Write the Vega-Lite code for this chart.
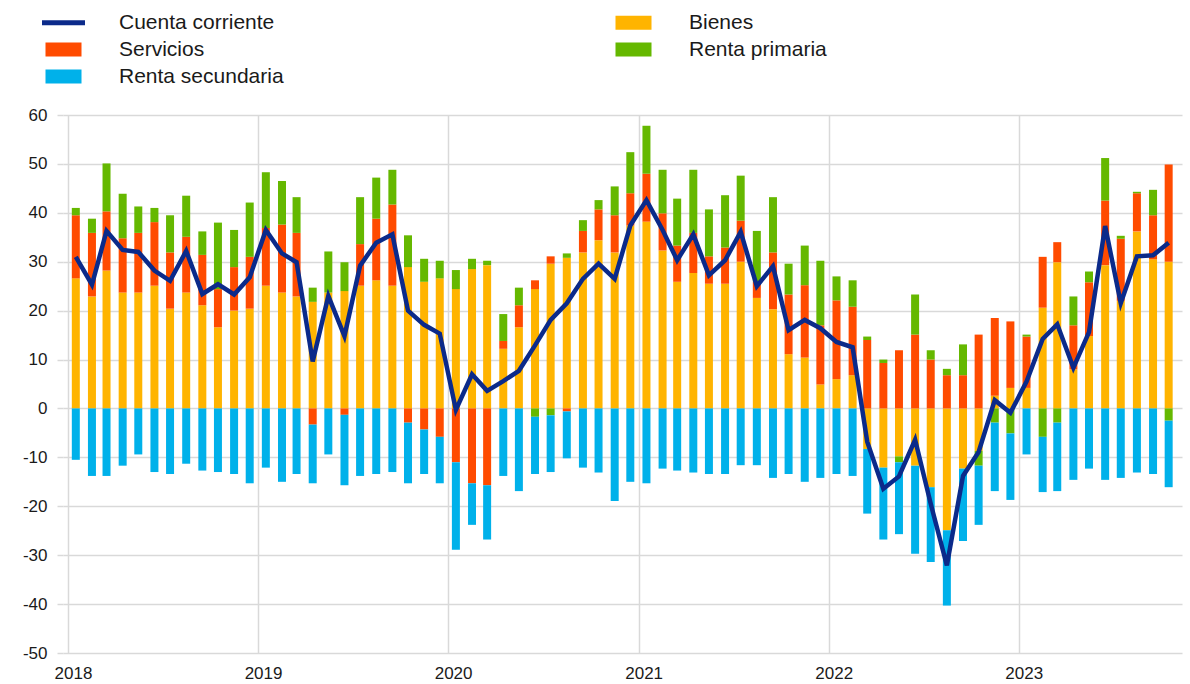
{
  "$schema": "https://vega.github.io/schema/vega-lite/v6.json",
  "width": 1119,
  "height": 538,
  "autosize": {"type": "none"},
  "padding": {"left": 63, "top": 115, "right": 8, "bottom": 31},
  "background": "white",
  "config": {
    "view": {"stroke": null},
    "font": "Liberation Sans"
  },
  "datasets": {
    "barras": [
      {"fecha":"2018-01-16","serie":"Bienes","valor":26.6,"orden":1},{"fecha":"2018-01-16","serie":"Servicios","valor":12.9,"orden":2},{"fecha":"2018-01-16","serie":"Renta primaria","valor":1.5,"orden":3},{"fecha":"2018-01-16","serie":"Renta secundaria","valor":-10.5,"orden":4},
      {"fecha":"2018-02-16","serie":"Bienes","valor":22.9,"orden":1},{"fecha":"2018-02-16","serie":"Servicios","valor":13.0,"orden":2},{"fecha":"2018-02-16","serie":"Renta primaria","valor":2.9,"orden":3},{"fecha":"2018-02-16","serie":"Renta secundaria","valor":-13.8,"orden":4},
      {"fecha":"2018-03-16","serie":"Bienes","valor":28.2,"orden":1},{"fecha":"2018-03-16","serie":"Servicios","valor":12.1,"orden":2},{"fecha":"2018-03-16","serie":"Renta primaria","valor":9.8,"orden":3},{"fecha":"2018-03-16","serie":"Renta secundaria","valor":-13.8,"orden":4},
      {"fecha":"2018-04-16","serie":"Bienes","valor":23.7,"orden":1},{"fecha":"2018-04-16","serie":"Servicios","valor":11.1,"orden":2},{"fecha":"2018-04-16","serie":"Renta primaria","valor":9.1,"orden":3},{"fecha":"2018-04-16","serie":"Renta secundaria","valor":-11.7,"orden":4},
      {"fecha":"2018-05-16","serie":"Bienes","valor":23.7,"orden":1},{"fecha":"2018-05-16","serie":"Servicios","valor":12.2,"orden":2},{"fecha":"2018-05-16","serie":"Renta primaria","valor":5.4,"orden":3},{"fecha":"2018-05-16","serie":"Renta secundaria","valor":-9.4,"orden":4},
      {"fecha":"2018-06-16","serie":"Bienes","valor":25.1,"orden":1},{"fecha":"2018-06-16","serie":"Servicios","valor":13.0,"orden":2},{"fecha":"2018-06-16","serie":"Renta primaria","valor":2.9,"orden":3},{"fecha":"2018-06-16","serie":"Renta secundaria","valor":-13.0,"orden":4},
      {"fecha":"2018-07-16","serie":"Bienes","valor":20.4,"orden":1},{"fecha":"2018-07-16","serie":"Servicios","valor":11.5,"orden":2},{"fecha":"2018-07-16","serie":"Renta primaria","valor":7.6,"orden":3},{"fecha":"2018-07-16","serie":"Renta secundaria","valor":-13.4,"orden":4},
      {"fecha":"2018-08-16","serie":"Bienes","valor":23.7,"orden":1},{"fecha":"2018-08-16","serie":"Servicios","valor":11.4,"orden":2},{"fecha":"2018-08-16","serie":"Renta primaria","valor":8.4,"orden":3},{"fecha":"2018-08-16","serie":"Renta secundaria","valor":-11.3,"orden":4},
      {"fecha":"2018-09-16","serie":"Bienes","valor":21.1,"orden":1},{"fecha":"2018-09-16","serie":"Servicios","valor":10.3,"orden":2},{"fecha":"2018-09-16","serie":"Renta primaria","valor":4.8,"orden":3},{"fecha":"2018-09-16","serie":"Renta secundaria","valor":-12.7,"orden":4},
      {"fecha":"2018-10-16","serie":"Bienes","valor":16.6,"orden":1},{"fecha":"2018-10-16","serie":"Servicios","valor":7.8,"orden":2},{"fecha":"2018-10-16","serie":"Renta primaria","valor":13.6,"orden":3},{"fecha":"2018-10-16","serie":"Renta secundaria","valor":-13.0,"orden":4},
      {"fecha":"2018-11-16","serie":"Bienes","valor":20.0,"orden":1},{"fecha":"2018-11-16","serie":"Servicios","valor":8.9,"orden":2},{"fecha":"2018-11-16","serie":"Renta primaria","valor":7.6,"orden":3},{"fecha":"2018-11-16","serie":"Renta secundaria","valor":-13.4,"orden":4},
      {"fecha":"2018-12-16","serie":"Bienes","valor":20.4,"orden":1},{"fecha":"2018-12-16","serie":"Servicios","valor":10.6,"orden":2},{"fecha":"2018-12-16","serie":"Renta primaria","valor":11.1,"orden":3},{"fecha":"2018-12-16","serie":"Renta secundaria","valor":-15.3,"orden":4},
      {"fecha":"2019-01-16","serie":"Bienes","valor":25.1,"orden":1},{"fecha":"2019-01-16","serie":"Servicios","valor":11.8,"orden":2},{"fecha":"2019-01-16","serie":"Renta primaria","valor":11.4,"orden":3},{"fecha":"2019-01-16","serie":"Renta secundaria","valor":-12.1,"orden":4},
      {"fecha":"2019-02-16","serie":"Bienes","valor":23.7,"orden":1},{"fecha":"2019-02-16","serie":"Servicios","valor":13.9,"orden":2},{"fecha":"2019-02-16","serie":"Renta primaria","valor":8.9,"orden":3},{"fecha":"2019-02-16","serie":"Renta secundaria","valor":-15.0,"orden":4},
      {"fecha":"2019-03-16","serie":"Bienes","valor":22.9,"orden":1},{"fecha":"2019-03-16","serie":"Servicios","valor":13.0,"orden":2},{"fecha":"2019-03-16","serie":"Renta primaria","valor":7.3,"orden":3},{"fecha":"2019-03-16","serie":"Renta secundaria","valor":-13.4,"orden":4},
      {"fecha":"2019-04-16","serie":"Bienes","valor":21.8,"orden":1},{"fecha":"2019-04-16","serie":"Servicios","valor":-3.3,"orden":2},{"fecha":"2019-04-16","serie":"Renta primaria","valor":2.9,"orden":3},{"fecha":"2019-04-16","serie":"Renta secundaria","valor":-12.0,"orden":4},
      {"fecha":"2019-05-16","serie":"Bienes","valor":23.7,"orden":1},{"fecha":"2019-05-16","serie":"Servicios","valor":0.0,"orden":2},{"fecha":"2019-05-16","serie":"Renta primaria","valor":8.4,"orden":3},{"fecha":"2019-05-16","serie":"Renta secundaria","valor":-9.4,"orden":4},
      {"fecha":"2019-06-16","serie":"Bienes","valor":24.0,"orden":1},{"fecha":"2019-06-16","serie":"Servicios","valor":-1.3,"orden":2},{"fecha":"2019-06-16","serie":"Renta primaria","valor":5.9,"orden":3},{"fecha":"2019-06-16","serie":"Renta secundaria","valor":-14.4,"orden":4},
      {"fecha":"2019-07-16","serie":"Bienes","valor":25.1,"orden":1},{"fecha":"2019-07-16","serie":"Servicios","valor":8.5,"orden":2},{"fecha":"2019-07-16","serie":"Renta primaria","valor":9.6,"orden":3},{"fecha":"2019-07-16","serie":"Renta secundaria","valor":-13.8,"orden":4},
      {"fecha":"2019-08-16","serie":"Bienes","valor":26.2,"orden":1},{"fecha":"2019-08-16","serie":"Servicios","valor":12.6,"orden":2},{"fecha":"2019-08-16","serie":"Renta primaria","valor":8.4,"orden":3},{"fecha":"2019-08-16","serie":"Renta secundaria","valor":-13.4,"orden":4},
      {"fecha":"2019-09-16","serie":"Bienes","valor":25.1,"orden":1},{"fecha":"2019-09-16","serie":"Servicios","valor":16.6,"orden":2},{"fecha":"2019-09-16","serie":"Renta primaria","valor":7.1,"orden":3},{"fecha":"2019-09-16","serie":"Renta secundaria","valor":-13.0,"orden":4},
      {"fecha":"2019-10-16","serie":"Bienes","valor":28.9,"orden":1},{"fecha":"2019-10-16","serie":"Servicios","valor":-2.9,"orden":2},{"fecha":"2019-10-16","serie":"Renta primaria","valor":6.5,"orden":3},{"fecha":"2019-10-16","serie":"Renta secundaria","valor":-12.4,"orden":4},
      {"fecha":"2019-11-16","serie":"Bienes","valor":25.9,"orden":1},{"fecha":"2019-11-16","serie":"Servicios","valor":-4.3,"orden":2},{"fecha":"2019-11-16","serie":"Renta primaria","valor":4.7,"orden":3},{"fecha":"2019-11-16","serie":"Renta secundaria","valor":-9.1,"orden":4},
      {"fecha":"2019-12-16","serie":"Bienes","valor":26.6,"orden":1},{"fecha":"2019-12-16","serie":"Servicios","valor":-5.8,"orden":2},{"fecha":"2019-12-16","serie":"Renta primaria","valor":3.6,"orden":3},{"fecha":"2019-12-16","serie":"Renta secundaria","valor":-9.5,"orden":4},
      {"fecha":"2020-01-16","serie":"Bienes","valor":24.4,"orden":1},{"fecha":"2020-01-16","serie":"Servicios","valor":-11.0,"orden":2},{"fecha":"2020-01-16","serie":"Renta primaria","valor":3.9,"orden":3},{"fecha":"2020-01-16","serie":"Renta secundaria","valor":-17.9,"orden":4},
      {"fecha":"2020-02-16","serie":"Bienes","valor":28.5,"orden":1},{"fecha":"2020-02-16","serie":"Servicios","valor":-15.3,"orden":2},{"fecha":"2020-02-16","serie":"Renta primaria","valor":2.1,"orden":3},{"fecha":"2020-02-16","serie":"Renta secundaria","valor":-8.5,"orden":4},
      {"fecha":"2020-03-16","serie":"Bienes","valor":29.3,"orden":1},{"fecha":"2020-03-16","serie":"Servicios","valor":-15.7,"orden":2},{"fecha":"2020-03-16","serie":"Renta primaria","valor":0.9,"orden":3},{"fecha":"2020-03-16","serie":"Renta secundaria","valor":-11.1,"orden":4},
      {"fecha":"2020-04-16","serie":"Bienes","valor":12.2,"orden":1},{"fecha":"2020-04-16","serie":"Servicios","valor":1.6,"orden":2},{"fecha":"2020-04-16","serie":"Renta primaria","valor":5.5,"orden":3},{"fecha":"2020-04-16","serie":"Renta secundaria","valor":-13.8,"orden":4},
      {"fecha":"2020-05-16","serie":"Bienes","valor":16.6,"orden":1},{"fecha":"2020-05-16","serie":"Servicios","valor":4.5,"orden":2},{"fecha":"2020-05-16","serie":"Renta primaria","valor":3.6,"orden":3},{"fecha":"2020-05-16","serie":"Renta secundaria","valor":-16.9,"orden":4},
      {"fecha":"2020-06-16","serie":"Bienes","valor":24.4,"orden":1},{"fecha":"2020-06-16","serie":"Servicios","valor":1.8,"orden":2},{"fecha":"2020-06-16","serie":"Renta primaria","valor":-1.7,"orden":3},{"fecha":"2020-06-16","serie":"Renta secundaria","valor":-11.7,"orden":4},
      {"fecha":"2020-07-16","serie":"Bienes","valor":29.6,"orden":1},{"fecha":"2020-07-16","serie":"Servicios","valor":1.5,"orden":2},{"fecha":"2020-07-16","serie":"Renta primaria","valor":-1.4,"orden":3},{"fecha":"2020-07-16","serie":"Renta secundaria","valor":-11.6,"orden":4},
      {"fecha":"2020-08-16","serie":"Bienes","valor":30.8,"orden":1},{"fecha":"2020-08-16","serie":"Servicios","valor":-0.6,"orden":2},{"fecha":"2020-08-16","serie":"Renta primaria","valor":0.9,"orden":3},{"fecha":"2020-08-16","serie":"Renta secundaria","valor":-9.6,"orden":4},
      {"fecha":"2020-09-16","serie":"Bienes","valor":31.9,"orden":1},{"fecha":"2020-09-16","serie":"Servicios","valor":4.4,"orden":2},{"fecha":"2020-09-16","serie":"Renta primaria","valor":2.2,"orden":3},{"fecha":"2020-09-16","serie":"Renta secundaria","valor":-12.1,"orden":4},
      {"fecha":"2020-10-16","serie":"Bienes","valor":34.4,"orden":1},{"fecha":"2020-10-16","serie":"Servicios","valor":6.3,"orden":2},{"fecha":"2020-10-16","serie":"Renta primaria","valor":1.9,"orden":3},{"fecha":"2020-10-16","serie":"Renta secundaria","valor":-13.1,"orden":4},
      {"fecha":"2020-11-16","serie":"Bienes","valor":31.9,"orden":1},{"fecha":"2020-11-16","serie":"Servicios","valor":7.6,"orden":2},{"fecha":"2020-11-16","serie":"Renta primaria","valor":5.9,"orden":3},{"fecha":"2020-11-16","serie":"Renta secundaria","valor":-18.9,"orden":4},
      {"fecha":"2020-12-16","serie":"Bienes","valor":37.4,"orden":1},{"fecha":"2020-12-16","serie":"Servicios","valor":6.6,"orden":2},{"fecha":"2020-12-16","serie":"Renta primaria","valor":8.4,"orden":3},{"fecha":"2020-12-16","serie":"Renta secundaria","valor":-15.0,"orden":4},
      {"fecha":"2021-01-16","serie":"Bienes","valor":38.2,"orden":1},{"fecha":"2021-01-16","serie":"Servicios","valor":9.8,"orden":2},{"fecha":"2021-01-16","serie":"Renta primaria","valor":9.8,"orden":3},{"fecha":"2021-01-16","serie":"Renta secundaria","valor":-15.3,"orden":4},
      {"fecha":"2021-02-16","serie":"Bienes","valor":32.3,"orden":1},{"fecha":"2021-02-16","serie":"Servicios","valor":7.6,"orden":2},{"fecha":"2021-02-16","serie":"Renta primaria","valor":8.9,"orden":3},{"fecha":"2021-02-16","serie":"Renta secundaria","valor":-12.3,"orden":4},
      {"fecha":"2021-03-16","serie":"Bienes","valor":25.9,"orden":1},{"fecha":"2021-03-16","serie":"Servicios","valor":7.4,"orden":2},{"fecha":"2021-03-16","serie":"Renta primaria","valor":9.6,"orden":3},{"fecha":"2021-03-16","serie":"Renta secundaria","valor":-12.7,"orden":4},
      {"fecha":"2021-04-16","serie":"Bienes","valor":27.7,"orden":1},{"fecha":"2021-04-16","serie":"Servicios","valor":8.2,"orden":2},{"fecha":"2021-04-16","serie":"Renta primaria","valor":12.9,"orden":3},{"fecha":"2021-04-16","serie":"Renta secundaria","valor":-13.1,"orden":4},
      {"fecha":"2021-05-16","serie":"Bienes","valor":25.5,"orden":1},{"fecha":"2021-05-16","serie":"Servicios","valor":5.6,"orden":2},{"fecha":"2021-05-16","serie":"Renta primaria","valor":9.6,"orden":3},{"fecha":"2021-05-16","serie":"Renta secundaria","valor":-13.4,"orden":4},
      {"fecha":"2021-06-16","serie":"Bienes","valor":25.5,"orden":1},{"fecha":"2021-06-16","serie":"Servicios","valor":7.4,"orden":2},{"fecha":"2021-06-16","serie":"Renta primaria","valor":10.7,"orden":3},{"fecha":"2021-06-16","serie":"Renta secundaria","valor":-13.4,"orden":4},
      {"fecha":"2021-07-16","serie":"Bienes","valor":30.0,"orden":1},{"fecha":"2021-07-16","serie":"Servicios","valor":8.4,"orden":2},{"fecha":"2021-07-16","serie":"Renta primaria","valor":9.2,"orden":3},{"fecha":"2021-07-16","serie":"Renta secundaria","valor":-11.6,"orden":4},
      {"fecha":"2021-08-16","serie":"Bienes","valor":22.6,"orden":1},{"fecha":"2021-08-16","serie":"Servicios","valor":3.3,"orden":2},{"fecha":"2021-08-16","serie":"Renta primaria","valor":10.4,"orden":3},{"fecha":"2021-08-16","serie":"Renta secundaria","valor":-11.6,"orden":4},
      {"fecha":"2021-09-16","serie":"Bienes","valor":20.3,"orden":1},{"fecha":"2021-09-16","serie":"Servicios","valor":11.6,"orden":2},{"fecha":"2021-09-16","serie":"Renta primaria","valor":11.3,"orden":3},{"fecha":"2021-09-16","serie":"Renta secundaria","valor":-14.2,"orden":4},
      {"fecha":"2021-10-16","serie":"Bienes","valor":11.1,"orden":1},{"fecha":"2021-10-16","serie":"Servicios","valor":12.2,"orden":2},{"fecha":"2021-10-16","serie":"Renta primaria","valor":6.3,"orden":3},{"fecha":"2021-10-16","serie":"Renta secundaria","valor":-13.4,"orden":4},
      {"fecha":"2021-11-16","serie":"Bienes","valor":10.4,"orden":1},{"fecha":"2021-11-16","serie":"Servicios","valor":14.8,"orden":2},{"fecha":"2021-11-16","serie":"Renta primaria","valor":8.1,"orden":3},{"fecha":"2021-11-16","serie":"Renta secundaria","valor":-15.0,"orden":4},
      {"fecha":"2021-12-16","serie":"Bienes","valor":4.9,"orden":1},{"fecha":"2021-12-16","serie":"Servicios","valor":12.1,"orden":2},{"fecha":"2021-12-16","serie":"Renta primaria","valor":13.2,"orden":3},{"fecha":"2021-12-16","serie":"Renta secundaria","valor":-14.2,"orden":4},
      {"fecha":"2022-01-16","serie":"Bienes","valor":6.0,"orden":1},{"fecha":"2022-01-16","serie":"Servicios","valor":16.1,"orden":2},{"fecha":"2022-01-16","serie":"Renta primaria","valor":4.9,"orden":3},{"fecha":"2022-01-16","serie":"Renta secundaria","valor":-13.4,"orden":4},
      {"fecha":"2022-02-16","serie":"Bienes","valor":6.8,"orden":1},{"fecha":"2022-02-16","serie":"Servicios","valor":14.0,"orden":2},{"fecha":"2022-02-16","serie":"Renta primaria","valor":5.4,"orden":3},{"fecha":"2022-02-16","serie":"Renta secundaria","valor":-13.8,"orden":4},
      {"fecha":"2022-03-16","serie":"Bienes","valor":-8.3,"orden":1},{"fecha":"2022-03-16","serie":"Servicios","valor":14.0,"orden":2},{"fecha":"2022-03-16","serie":"Renta primaria","valor":0.7,"orden":3},{"fecha":"2022-03-16","serie":"Renta secundaria","valor":-13.2,"orden":4},
      {"fecha":"2022-04-16","serie":"Bienes","valor":-12.1,"orden":1},{"fecha":"2022-04-16","serie":"Servicios","valor":9.3,"orden":2},{"fecha":"2022-04-16","serie":"Renta primaria","valor":0.7,"orden":3},{"fecha":"2022-04-16","serie":"Renta secundaria","valor":-14.7,"orden":4},
      {"fecha":"2022-05-16","serie":"Bienes","valor":-9.8,"orden":1},{"fecha":"2022-05-16","serie":"Servicios","valor":11.9,"orden":2},{"fecha":"2022-05-16","serie":"Renta primaria","valor":-1.2,"orden":3},{"fecha":"2022-05-16","serie":"Renta secundaria","valor":-14.7,"orden":4},
      {"fecha":"2022-06-16","serie":"Bienes","valor":-11.7,"orden":1},{"fecha":"2022-06-16","serie":"Servicios","valor":15.1,"orden":2},{"fecha":"2022-06-16","serie":"Renta primaria","valor":8.2,"orden":3},{"fecha":"2022-06-16","serie":"Renta secundaria","valor":-18.0,"orden":4},
      {"fecha":"2022-07-16","serie":"Bienes","valor":-16.1,"orden":1},{"fecha":"2022-07-16","serie":"Servicios","valor":10.0,"orden":2},{"fecha":"2022-07-16","serie":"Renta primaria","valor":1.9,"orden":3},{"fecha":"2022-07-16","serie":"Renta secundaria","valor":-15.3,"orden":4},
      {"fecha":"2022-08-16","serie":"Bienes","valor":-24.9,"orden":1},{"fecha":"2022-08-16","serie":"Servicios","valor":6.8,"orden":2},{"fecha":"2022-08-16","serie":"Renta primaria","valor":1.3,"orden":3},{"fecha":"2022-08-16","serie":"Renta secundaria","valor":-15.4,"orden":4},
      {"fecha":"2022-09-16","serie":"Bienes","valor":-12.3,"orden":1},{"fecha":"2022-09-16","serie":"Servicios","valor":6.8,"orden":2},{"fecha":"2022-09-16","serie":"Renta primaria","valor":6.3,"orden":3},{"fecha":"2022-09-16","serie":"Renta secundaria","valor":-14.8,"orden":4},
      {"fecha":"2022-10-16","serie":"Bienes","valor":-8.7,"orden":1},{"fecha":"2022-10-16","serie":"Servicios","valor":15.1,"orden":2},{"fecha":"2022-10-16","serie":"Renta primaria","valor":-3.0,"orden":3},{"fecha":"2022-10-16","serie":"Renta secundaria","valor":-12.1,"orden":4},
      {"fecha":"2022-11-16","serie":"Bienes","valor":2.6,"orden":1},{"fecha":"2022-11-16","serie":"Servicios","valor":15.9,"orden":2},{"fecha":"2022-11-16","serie":"Renta primaria","valor":-2.9,"orden":3},{"fecha":"2022-11-16","serie":"Renta secundaria","valor":-14.0,"orden":4},
      {"fecha":"2022-12-16","serie":"Bienes","valor":4.2,"orden":1},{"fecha":"2022-12-16","serie":"Servicios","valor":13.6,"orden":2},{"fecha":"2022-12-16","serie":"Renta primaria","valor":-5.1,"orden":3},{"fecha":"2022-12-16","serie":"Renta secundaria","valor":-13.6,"orden":4},
      {"fecha":"2023-01-16","serie":"Bienes","valor":4.2,"orden":1},{"fecha":"2023-01-16","serie":"Servicios","valor":10.5,"orden":2},{"fecha":"2023-01-16","serie":"Renta primaria","valor":0.4,"orden":3},{"fecha":"2023-01-16","serie":"Renta secundaria","valor":-9.4,"orden":4},
      {"fecha":"2023-02-16","serie":"Bienes","valor":20.6,"orden":1},{"fecha":"2023-02-16","serie":"Servicios","valor":10.4,"orden":2},{"fecha":"2023-02-16","serie":"Renta primaria","valor":-5.8,"orden":3},{"fecha":"2023-02-16","serie":"Renta secundaria","valor":-11.3,"orden":4},
      {"fecha":"2023-03-16","serie":"Bienes","valor":29.9,"orden":1},{"fecha":"2023-03-16","serie":"Servicios","valor":4.1,"orden":2},{"fecha":"2023-03-16","serie":"Renta primaria","valor":-2.9,"orden":3},{"fecha":"2023-03-16","serie":"Renta secundaria","valor":-14.0,"orden":4},
      {"fecha":"2023-04-16","serie":"Bienes","valor":8.0,"orden":1},{"fecha":"2023-04-16","serie":"Servicios","valor":9.0,"orden":2},{"fecha":"2023-04-16","serie":"Renta primaria","valor":5.9,"orden":3},{"fecha":"2023-04-16","serie":"Renta secundaria","valor":-14.6,"orden":4},
      {"fecha":"2023-05-16","serie":"Bienes","valor":14.8,"orden":1},{"fecha":"2023-05-16","serie":"Servicios","valor":11.0,"orden":2},{"fecha":"2023-05-16","serie":"Renta primaria","valor":2.2,"orden":3},{"fecha":"2023-05-16","serie":"Renta secundaria","valor":-12.3,"orden":4},
      {"fecha":"2023-06-16","serie":"Bienes","valor":29.3,"orden":1},{"fecha":"2023-06-16","serie":"Servicios","valor":13.2,"orden":2},{"fecha":"2023-06-16","serie":"Renta primaria","valor":8.7,"orden":3},{"fecha":"2023-06-16","serie":"Renta secundaria","valor":-14.6,"orden":4},
      {"fecha":"2023-07-16","serie":"Bienes","valor":22.0,"orden":1},{"fecha":"2023-07-16","serie":"Servicios","valor":12.7,"orden":2},{"fecha":"2023-07-16","serie":"Renta primaria","valor":0.6,"orden":3},{"fecha":"2023-07-16","serie":"Renta secundaria","valor":-14.2,"orden":4},
      {"fecha":"2023-08-16","serie":"Bienes","valor":36.2,"orden":1},{"fecha":"2023-08-16","serie":"Servicios","valor":7.8,"orden":2},{"fecha":"2023-08-16","serie":"Renta primaria","valor":0.3,"orden":3},{"fecha":"2023-08-16","serie":"Renta secundaria","valor":-13.1,"orden":4},
      {"fecha":"2023-09-16","serie":"Bienes","valor":30.5,"orden":1},{"fecha":"2023-09-16","serie":"Servicios","valor":9.0,"orden":2},{"fecha":"2023-09-16","serie":"Renta primaria","valor":5.2,"orden":3},{"fecha":"2023-09-16","serie":"Renta secundaria","valor":-13.4,"orden":4},
      {"fecha":"2023-10-16","serie":"Bienes","valor":30.0,"orden":1},{"fecha":"2023-10-16","serie":"Servicios","valor":19.9,"orden":2},{"fecha":"2023-10-16","serie":"Renta primaria","valor":-2.5,"orden":3},{"fecha":"2023-10-16","serie":"Renta secundaria","valor":-13.6,"orden":4}
    ],
    "cuenta": [
      {"fecha":"2018-01-16","serie":"Cuenta corriente","valor":31.0},{"fecha":"2018-02-16","serie":"Cuenta corriente","valor":25.3},{"fecha":"2018-03-16","serie":"Cuenta corriente","valor":36.3},{"fecha":"2018-04-16","serie":"Cuenta corriente","valor":32.4},{"fecha":"2018-05-16","serie":"Cuenta corriente","valor":32.0},{"fecha":"2018-06-16","serie":"Cuenta corriente","valor":28.2},{"fecha":"2018-07-16","serie":"Cuenta corriente","valor":26.1},{"fecha":"2018-08-16","serie":"Cuenta corriente","valor":32.2},{"fecha":"2018-09-16","serie":"Cuenta corriente","valor":23.4},{"fecha":"2018-10-16","serie":"Cuenta corriente","valor":25.4},{"fecha":"2018-11-16","serie":"Cuenta corriente","valor":23.3},{"fecha":"2018-12-16","serie":"Cuenta corriente","valor":26.8},
      {"fecha":"2019-01-16","serie":"Cuenta corriente","valor":36.5},{"fecha":"2019-02-16","serie":"Cuenta corriente","valor":31.7},{"fecha":"2019-03-16","serie":"Cuenta corriente","valor":29.9},{"fecha":"2019-04-16","serie":"Cuenta corriente","valor":9.6},{"fecha":"2019-05-16","serie":"Cuenta corriente","valor":23.0},{"fecha":"2019-06-16","serie":"Cuenta corriente","valor":14.8},{"fecha":"2019-07-16","serie":"Cuenta corriente","valor":29.2},{"fecha":"2019-08-16","serie":"Cuenta corriente","valor":33.9},{"fecha":"2019-09-16","serie":"Cuenta corriente","valor":35.6},{"fecha":"2019-10-16","serie":"Cuenta corriente","valor":20.0},{"fecha":"2019-11-16","serie":"Cuenta corriente","valor":17.1},{"fecha":"2019-12-16","serie":"Cuenta corriente","valor":15.3},
      {"fecha":"2020-01-16","serie":"Cuenta corriente","valor":-0.3},{"fecha":"2020-02-16","serie":"Cuenta corriente","valor":7.0},{"fecha":"2020-03-16","serie":"Cuenta corriente","valor":3.6},{"fecha":"2020-04-16","serie":"Cuenta corriente","valor":5.6},{"fecha":"2020-05-16","serie":"Cuenta corriente","valor":7.7},{"fecha":"2020-06-16","serie":"Cuenta corriente","valor":12.9},{"fecha":"2020-07-16","serie":"Cuenta corriente","valor":18.1},{"fecha":"2020-08-16","serie":"Cuenta corriente","valor":21.5},{"fecha":"2020-09-16","serie":"Cuenta corriente","valor":26.5},{"fecha":"2020-10-16","serie":"Cuenta corriente","valor":29.6},{"fecha":"2020-11-16","serie":"Cuenta corriente","valor":26.5},{"fecha":"2020-12-16","serie":"Cuenta corriente","valor":37.4},
      {"fecha":"2021-01-16","serie":"Cuenta corriente","valor":42.6},{"fecha":"2021-02-16","serie":"Cuenta corriente","valor":36.5},{"fecha":"2021-03-16","serie":"Cuenta corriente","valor":30.3},{"fecha":"2021-04-16","serie":"Cuenta corriente","valor":35.6},{"fecha":"2021-05-16","serie":"Cuenta corriente","valor":27.2},{"fecha":"2021-06-16","serie":"Cuenta corriente","valor":30.3},{"fecha":"2021-07-16","serie":"Cuenta corriente","valor":36.1},{"fecha":"2021-08-16","serie":"Cuenta corriente","valor":25.0},{"fecha":"2021-09-16","serie":"Cuenta corriente","valor":29.1},{"fecha":"2021-10-16","serie":"Cuenta corriente","valor":16.0},{"fecha":"2021-11-16","serie":"Cuenta corriente","valor":18.1},{"fecha":"2021-12-16","serie":"Cuenta corriente","valor":16.4},
      {"fecha":"2022-01-16","serie":"Cuenta corriente","valor":13.6},{"fecha":"2022-02-16","serie":"Cuenta corriente","valor":12.5},{"fecha":"2022-03-16","serie":"Cuenta corriente","valor":-6.8},{"fecha":"2022-04-16","serie":"Cuenta corriente","valor":-16.4},{"fecha":"2022-05-16","serie":"Cuenta corriente","valor":-13.9},{"fecha":"2022-06-16","serie":"Cuenta corriente","valor":-6.4},{"fecha":"2022-07-16","serie":"Cuenta corriente","valor":-19.5},{"fecha":"2022-08-16","serie":"Cuenta corriente","valor":-32.1},{"fecha":"2022-09-16","serie":"Cuenta corriente","valor":-13.8},{"fecha":"2022-10-16","serie":"Cuenta corriente","valor":-8.9},{"fecha":"2022-11-16","serie":"Cuenta corriente","valor":1.7},{"fecha":"2022-12-16","serie":"Cuenta corriente","valor":-0.9},
      {"fecha":"2023-01-16","serie":"Cuenta corriente","valor":5.5},{"fecha":"2023-02-16","serie":"Cuenta corriente","valor":14.2},{"fecha":"2023-03-16","serie":"Cuenta corriente","valor":17.2},{"fecha":"2023-04-16","serie":"Cuenta corriente","valor":8.3},{"fecha":"2023-05-16","serie":"Cuenta corriente","valor":15.6},{"fecha":"2023-06-16","serie":"Cuenta corriente","valor":37.3},{"fecha":"2023-07-16","serie":"Cuenta corriente","valor":21.5},{"fecha":"2023-08-16","serie":"Cuenta corriente","valor":31.1},{"fecha":"2023-09-16","serie":"Cuenta corriente","valor":31.3},{"fecha":"2023-10-16","serie":"Cuenta corriente","valor":33.9}
    ]
  },
  "encoding": {
    "x": {
      "field": "fecha",
      "type": "temporal",
      "scale": {
        "type": "utc",
        "domain": [{"year": 2018, "month": 1, "date": 1, "utc": true}, {"year": 2023, "month": 11, "date": 1, "utc": true}]
      },
      "axis": {
        "title": null,
        "format": "%Y",
        "tickCount": {"interval": "year", "step": 1},
        "grid": true,
        "gridColor": "#d9d9d9",
        "gridWidth": 1.5,
        "ticks": false,
        "domain": false,
        "labelFont": "Liberation Sans",
        "labelFontSize": 17,
        "labelColor": "#1a1a1a",
        "labelPadding": 12,
        "labelOffset": 5,
        "labelAlign": "center",
        "labelFlush": false
      }
    },
    "y": {
      "field": "valor",
      "type": "quantitative",
      "scale": {"domain": [-50, 60], "nice": false, "zero": false},
      "axis": {
        "title": null,
        "values": [-50, -40, -30, -20, -10, 0, 10, 20, 30, 40, 50, 60],
        "labelExpr": "'' + datum.value",
        "grid": true,
        "gridColor": "#d9d9d9",
        "gridWidth": 1.5,
        "domain": false,
        "ticks": true,
        "tickColor": "#d9d9d9",
        "tickWidth": 1.5,
        "tickSize": 6,
        "labelPadding": 10,
        "labelFont": "Liberation Sans",
        "labelFontSize": 17,
        "labelColor": "#1a1a1a"
      }
    },
    "color": {
      "field": "serie",
      "type": "nominal",
      "scale": {
        "domain": ["Cuenta corriente", "Servicios", "Renta secundaria", "Bienes", "Renta primaria"],
        "range": ["#0b2a8a", "#FF4B00", "#00B1EA", "#FFB400", "#65B800"]
      },
      "legend": {
        "title": null,
        "orient": "none",
        "legendX": -10,
        "legendY": -103,
        "columns": 2,
        "padding": 0,
        "symbolSize": 400,
        "symbolType": "M-1.8,-0.7H1.8V0.7H-1.8Z",
        "symbolStrokeWidth": 0,
        "labelFont": "Liberation Sans",
        "labelFontSize": 21,
        "labelColor": "#1a1a1a",
        "labelOffset": 45,
        "labelLimit": 400,
        "rowPadding": 5,
        "columnPadding": 331,
        "encode": {
          "symbols": {
            "update": {
              "shape": {"signal": "datum.label === 'Cuenta corriente' ? 'M-2.15,-0.25H2.15V0.25H-2.15Z' : 'M-1.8,-0.7H1.8V0.7H-1.8Z'"}
            }
          }
        }
      }
    }
  },
  "layer": [
    {
      "data": {"name": "barras"},
      "mark": {"type": "bar", "width": 8},
      "encoding": {
        "order": {"field": "orden", "type": "quantitative", "sort": "ascending"}
      }
    },
    {
      "data": {"name": "cuenta"},
      "mark": {"type": "line", "strokeWidth": 4.5, "strokeJoin": "miter", "strokeCap": "butt"},
      "encoding": {}
    }
  ]
}
